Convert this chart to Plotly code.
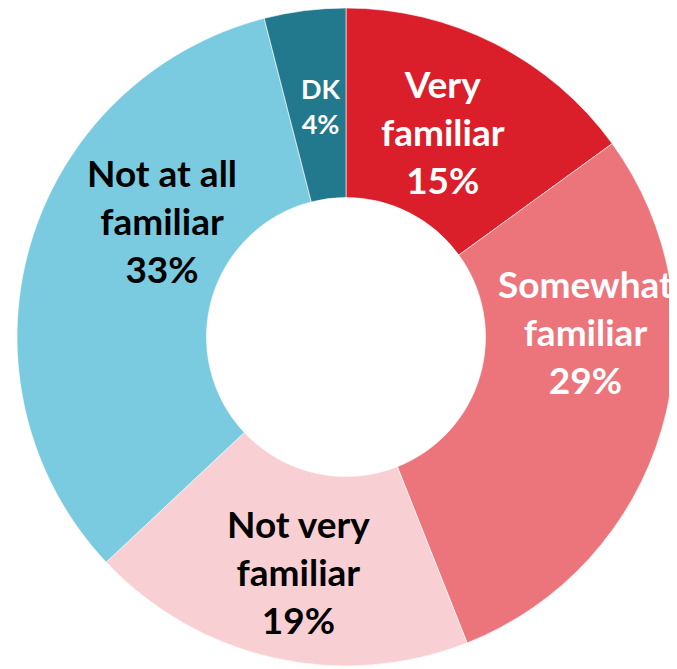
import plotly.graph_objects as go

# === Data ===
labels = ["Very familiar", "Somewhat familiar", "Not very familiar", "Not at all familiar", "DK"]
values = [15, 29, 19, 33, 4]
colors = ["#DA1F2A", "#EC757B", "#F8D0D3", "#7BCBE0", "#22788C"]

# label text and placement (pixel centres in the 677x669 picture)
label_text = ["Very<br>familiar<br>15%", "Somewhat<br>familiar<br>29%",
              "Not very<br>familiar<br>19%", "Not at all<br>familiar<br>33%", "DK<br>4%"]
label_px = [(443, 131), (585, 331), (298, 571), (162, 220), (321, 106)]
label_color = ["white", "white", "black", "black", "white"]
label_size = [37, 37, 37, 37, 27]

# page body has an 8px margin, so the figure starts at (8, 8)
OFF = 8
W, H = 677 - OFF, 669 - OFF
font_family = "Lato, 'Open Sans', sans-serif"

# pie: centre (346, 337) in the picture, radius ~329
cx, cy, r = 346 - OFF, 337 - OFF, 329

fig = go.Figure()
fig.add_trace(go.Pie(
    labels=labels, values=values,
    marker=dict(colors=colors, line=dict(color="white", width=0.6)),
    hole=0.424, sort=False, direction="clockwise", rotation=0,
    textinfo="none", hoverinfo="label+percent", showlegend=False,
    domain=dict(x=[(cx - r) / W, (cx + r) / W],
                y=[max(0, 1 - (cy + r) / H), min(1, 1 - (cy - r) / H)]),
))

for txt, (px, py), col, sz in zip(label_text, label_px, label_color, label_size):
    fig.add_annotation(
        x=(px - OFF) / W, y=1 - (py - OFF) / H, xref="paper", yref="paper",
        text=f"<b>{txt}</b>", showarrow=False, align="center",
        font=dict(family=font_family, size=sz, color=col),
        xanchor="center", yanchor="middle",
    )

fig.update_layout(
    width=W, height=H,
    margin=dict(l=0, r=0, t=0, b=0),
    paper_bgcolor="white", plot_bgcolor="white",
)
fig.write_html("out.html")
